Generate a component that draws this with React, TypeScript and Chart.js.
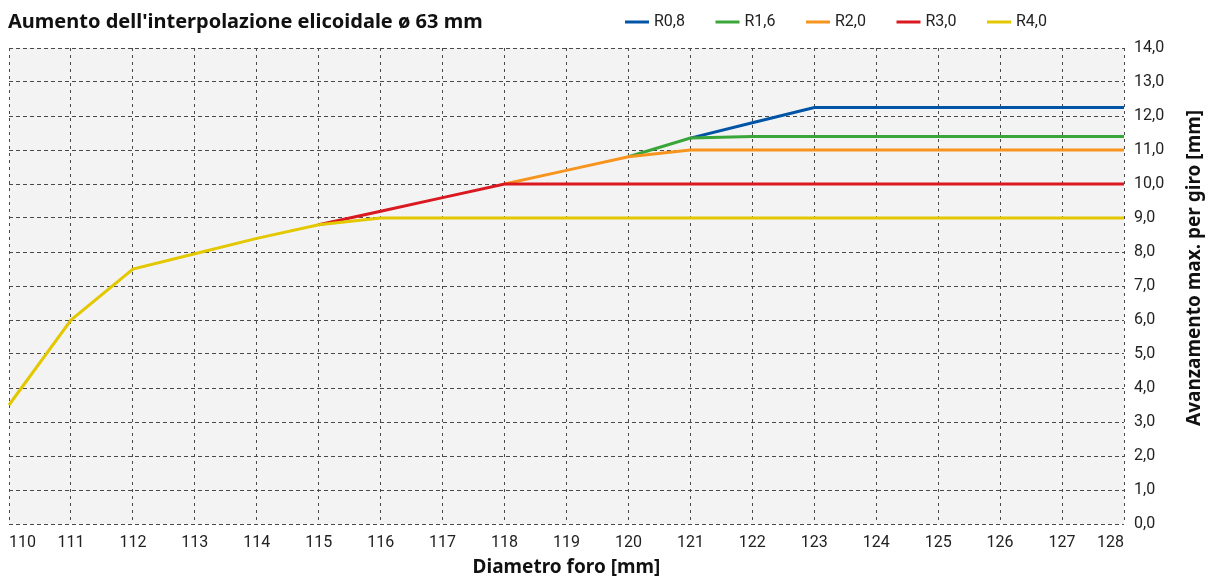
import { useEffect, useRef } from 'react';
import { Chart, registerables } from 'chart.js';

Chart.register(...registerables);

const chartTitle = "Aumento dell'interpolazione elicoidale ø 63 mm";
const xTitle = 'Diametro foro [mm]';
const yTitle = 'Avanzamento max. per giro [mm]';

const diameters = ['110', '111', '112', '113', '114', '115', '116', '117', '118', '119', '120', '121', '122', '123', '124', '125', '126', '127', '128'];

const seriesNames = ['R0,8', 'R1,6', 'R2,0', 'R3,0', 'R4,0'];
const seriesColors = ['#0054a6', '#3aa63a', '#f7941d', '#d9181f', '#e3c800'];

const r08 = [3.5, 6.0, 7.5, 7.95, 8.4, 8.8, 9.2, 9.6, 10.0, 10.4, 10.8, 11.35, 11.8, 12.25, 12.25, 12.25, 12.25, 12.25, 12.25];
const r16 = [3.5, 6.0, 7.5, 7.95, 8.4, 8.8, 9.2, 9.6, 10.0, 10.4, 10.8, 11.35, 11.4, 11.4, 11.4, 11.4, 11.4, 11.4, 11.4];
const r20 = [3.5, 6.0, 7.5, 7.95, 8.4, 8.8, 9.2, 9.6, 10.0, 10.4, 10.8, 11.0, 11.0, 11.0, 11.0, 11.0, 11.0, 11.0, 11.0];
const r30 = [3.5, 6.0, 7.5, 7.95, 8.4, 8.8, 9.2, 9.6, 10.0, 10.0, 10.0, 10.0, 10.0, 10.0, 10.0, 10.0, 10.0, 10.0, 10.0];
const r40 = [3.5, 6.0, 7.5, 7.95, 8.4, 8.8, 9.0, 9.0, 9.0, 9.0, 9.0, 9.0, 9.0, 9.0, 9.0, 9.0, 9.0, 9.0, 9.0];
const seriesValues = [r08, r16, r20, r30, r40];
// lower number drawn on top; yellow on top
const drawOrder = [4, 3, 2, 1, 0];

const yMin = 0;
const yMax = 14;
const yStep = 1;

const TITLE_FONT = '"Noto Sans"';

const decorPlugin = {
  id: 'decor',
  beforeDraw(chart: any) {
    const { ctx, chartArea: a } = chart;
    ctx.save();
    ctx.fillStyle = '#f3f3f3';
    ctx.fillRect(a.left, a.top, a.right - a.left, a.bottom - a.top);
    ctx.restore();
  },
  afterDraw(chart: any) {
    const { ctx } = chart;
    ctx.save();
    ctx.fillStyle = '#111111';
    ctx.textBaseline = 'middle';
    ctx.textAlign = 'left';
    ctx.font = `bold 20px ${TITLE_FONT}`;
    ctx.fillText(chartTitle, 8, 22);

    // legend
    ctx.font = '16px Roboto';
    const startX = 625;
    const spacing = 90.5;
    seriesNames.forEach((name, i) => {
      const x = startX + i * spacing;
      ctx.strokeStyle = seriesColors[i];
      ctx.lineWidth = 3;
      ctx.beginPath();
      ctx.moveTo(x, 22);
      ctx.lineTo(x + 24, 22);
      ctx.stroke();
      ctx.fillStyle = '#222222';
      ctx.fillText(name, x + 29, 22);
    });

    // y axis title (reads bottom to top)
    ctx.fillStyle = '#111111';
    ctx.font = `bold 19px ${TITLE_FONT}`;
    ctx.translate(1195, 268);
    ctx.rotate(-Math.PI / 2);
    ctx.textAlign = 'center';
    ctx.fillText(yTitle, 0, 0);
    ctx.restore();
  },
};

export default function App() {
  const canvasRef = useRef<HTMLCanvasElement | null>(null);

  useEffect(() => {
    const canvas = canvasRef.current;
    if (!canvas) return;
    const chart = new Chart(canvas, {
      type: 'line',
      data: {
        labels: diameters,
        datasets: seriesNames.map((name, i) => ({
          label: name,
          data: seriesValues[i],
          borderColor: seriesColors[i],
          backgroundColor: seriesColors[i],
          borderWidth: 3,
          pointRadius: 0,
          pointHoverRadius: 0,
          tension: 0,
          fill: false,
          order: drawOrder[i],
          segment: {
            // hide the parts covered exactly by the series drawn right above
            borderColor: (ctx: any) => {
              const above = i + 1;
              if (above >= seriesValues.length) return undefined;
              const a = ctx.p0DataIndex;
              const b = ctx.p1DataIndex;
              const own = seriesValues[i];
              const cov = seriesValues[above];
              if (own[a] === cov[a] && own[b] === cov[b]) return 'rgba(0,0,0,0)';
              return undefined;
            },
          },
        })),
      },
      options: {
        animation: false,
        responsive: false,
        layout: { padding: { top: 48, left: 9, right: 0, bottom: 0 } },
        plugins: {
          legend: { display: false },
          title: { display: false },
          tooltip: { enabled: false },
        },
        scales: {
          x: {
            type: 'category',
            offset: false,
            grid: { color: '#4a4a4a', lineWidth: 1, drawTicks: false },
            border: { display: false, dash: [3, 4] },
            ticks: {
              align: 'inner',
              padding: 9,
              color: '#222222',
              font: { family: 'Roboto', size: 16 },
              maxRotation: 0,
              autoSkip: false,
            },
            title: {
              display: true,
              text: xTitle,
              color: '#111111',
              font: { family: 'Noto Sans', size: 19, weight: 'bold' },
              padding: { top: 0, bottom: 5 },
            },
            afterFit: (s: any) => {
              s.height = 60;
            },
          },
          y: {
            position: 'right',
            min: yMin,
            max: yMax,
            grid: { color: '#4a4a4a', lineWidth: 1, drawTicks: false },
            border: { display: false, dash: [4, 3] },
            ticks: {
              stepSize: yStep,
              padding: 10,
              color: '#222222',
              font: { family: 'Roboto', size: 16 },
              callback: (v: any) => Number(v).toFixed(1).replace('.', ','),
            },
            afterFit: (s: any) => {
              s.width = 84;
            },
          },
        },
      },
      plugins: [decorPlugin],
    });
    return () => chart.destroy();
  }, []);

  return (
    <div style={{ position: 'absolute', left: 0, top: 0, width: 1208, height: 584 }}>
      <canvas ref={canvasRef} width={1208} height={584} style={{ display: 'block' }} />
    </div>
  );
}
